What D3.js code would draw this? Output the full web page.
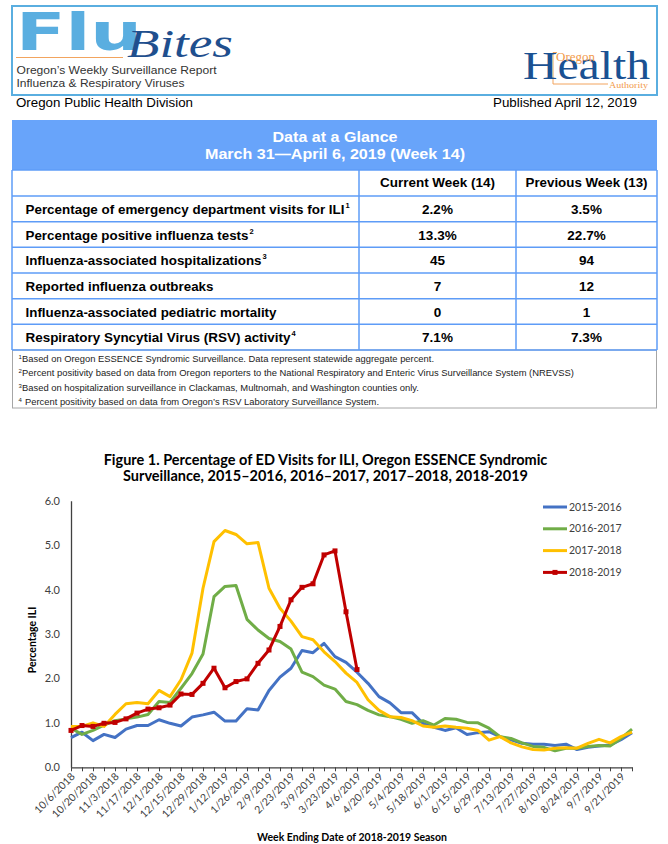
<!DOCTYPE html>
<html>
<head>
<meta charset="utf-8">
<script src="https://cdnjs.cloudflare.com/ajax/libs/d3/7.8.5/d3.min.js"></script>
<style>
  html, body { margin: 0; padding: 0; background: #fff; }
  svg { display: block; }
</style>
</head>
<body>
<svg id="page" width="668" height="844"></svg>
<script>
// ---------- data ----------
const weeks = ["10/6/2018","10/13/2018","10/20/2018","10/27/2018","11/3/2018","11/10/2018","11/17/2018","11/24/2018",
  "12/1/2018","12/8/2018","12/15/2018","12/22/2018","12/29/2018","1/5/2019","1/12/2019","1/19/2019","1/26/2019",
  "2/2/2019","2/9/2019","2/16/2019","2/23/2019","3/2/2019","3/9/2019","3/16/2019","3/23/2019","3/30/2019","4/6/2019",
  "4/13/2019","4/20/2019","4/27/2019","5/4/2019","5/11/2019","5/18/2019","5/25/2019","6/1/2019","6/8/2019","6/15/2019",
  "6/22/2019","6/29/2019","7/6/2019","7/13/2019","7/20/2019","7/27/2019","8/3/2019","8/10/2019","8/17/2019","8/24/2019",
  "8/31/2019","9/7/2019","9/14/2019","9/21/2019","9/28/2019"];

const s1516 = [0.67,0.79,0.60,0.74,0.67,0.86,0.94,0.94,1.07,0.99, 0.93,1.13,1.18,1.24,1.04,1.04,1.32,1.29,1.73,2.03,
  2.23,2.63,2.58,2.79,2.49,2.36,2.14,1.89,1.59,1.45, 1.23,1.23,0.99,0.90,0.83,0.89,0.74,0.78,0.80,0.69,
  0.62,0.54,0.52,0.52,0.49,0.52,0.40,0.45,0.48,0.50, 0.62,0.78];
const s1617 = [0.88,0.74,0.83,0.95,1.05,1.09,1.13,1.19,1.48,1.46, 1.78,2.11,2.55,3.84,4.07,4.09,3.33,3.09,2.90,2.83,
  2.66,2.14,2.04,1.85,1.76,1.48,1.41,1.28,1.18,1.14, 1.08,0.99,1.05,0.95,1.10,1.08,1.01,1.00,0.88,0.69,
  0.65,0.55,0.47,0.45,0.37,0.43,0.43,0.47,0.49,0.48, 0.65,0.86];
const s1718 = [0.92,0.92,1.00,0.92,1.19,1.43,1.46,1.43,1.73,1.59, 1.97,2.57,4.03,5.08,5.33,5.24,5.03,5.06,4.03,3.58,
  3.29,2.94,2.87,2.60,2.38,2.12,1.91,1.52,1.28,1.14, 1.12,1.05,0.93,0.90,0.93,0.90,0.88,0.83,0.61,0.69,
  0.55,0.46,0.40,0.39,0.43,0.44,0.43,0.54,0.63,0.55, 0.69,0.79];
const s1819 = [0.83,0.94,0.92,0.99,1.01,1.09,1.22,1.31,1.34,1.40, 1.65,1.64,1.89,2.23,1.79,1.93,1.99,2.34,2.64,3.17,
  3.77,4.05,4.13,4.78,4.87,3.50,2.20];

const seriesNames = ["2015-2016", "2016-2017", "2017-2018", "2018-2019"];
const seriesValues = [s1516, s1617, s1718, s1819];
const seriesColors = ["#4472c4", "#70ad47", "#ffc000", "#c00000"];
const yTicks = [0, 1, 2, 3, 4, 5, 6];

const rowLabels = [
  "Percentage of emergency department visits for ILI",
  "Percentage positive influenza tests",
  "Influenza-associated hospitalizations",
  "Reported influenza outbreaks",
  "Influenza-associated pediatric mortality",
  "Respiratory Syncytial Virus (RSV) activity"
];
const rowNotes = ["1", "2", "3", "", "", "4"];
const currentWeek = ["2.2%", "13.3%", "45", "7", "0", "7.1%"];
const previousWeek = ["3.5%", "22.7%", "94", "12", "1", "7.3%"];
const columnHeads = ["Current Week (14)", "Previous Week (13)"];
const footnotes = [
  ["1", "Based on Oregon ESSENCE Syndromic Surveillance. Data represent statewide aggregate percent."],
  ["2", "Percent positivity based on data from Oregon reporters to the National Respiratory and Enteric Virus Surveillance System (NREVSS)"],
  ["3", "Based on hospitalization surveillance in Clackamas, Multnomah, and Washington counties only."],
  ["4", "Percent positivity based on data from Oregon\u2019s RSV Laboratory Surveillance System."]
];

// ---------- layout ----------
const narrow = "'Liberation Sans Narrow', 'Arial Narrow', 'Liberation Sans', Arial, sans-serif";
const sans = "'Liberation Sans', Arial, sans-serif";
const serif = "'Liberation Serif', 'Times New Roman', serif";
const chartFont = "Lato, 'Open Sans', sans-serif";
const rowLabelWidth = [319, 223, 236, 188, 251, 265];
const footWidth = [412, 552, 397, 354];
const blue = "#5e9cf7";

const svg = d3.select("#page");

// ---------- masthead ----------
const head = svg.append("g");
head.append("rect")
  .attr("x", 12).attr("y", 6).attr("width", 645).attr("height", 89)
  .attr("fill", "none").attr("stroke", "#5aaee0").attr("stroke-width", 2);

head.append("text")
  .attr("x", 16).attr("y", 50)
  .attr("font-family", "'DejaVu Sans', sans-serif").attr("font-weight", "bold")
  .attr("font-size", 51).attr("fill", "#5aaee0")
  .attr("textLength", 126).attr("lengthAdjust", "spacingAndGlyphs")
  .text("Flu");
head.append("line")
  .attr("x1", 16).attr("x2", 123).attr("y1", 57.5).attr("y2", 57.5)
  .attr("stroke", "#f2a45e").attr("stroke-width", 1.2);
head.append("text")
  .attr("x", 127).attr("y", 57)
  .attr("font-family", serif).attr("font-style", "italic")
  .attr("font-size", 40).attr("fill", "#1f4f8e")
  .attr("textLength", 106).attr("lengthAdjust", "spacingAndGlyphs")
  .text("Bites");
head.append("text")
  .attr("x", 16.5).attr("y", 74).attr("font-family", sans).attr("font-size", 11).attr("fill", "#333")
  .attr("textLength", 200).attr("lengthAdjust", "spacingAndGlyphs")
  .text("Oregon\u2019s Weekly Surveillance Report");
head.append("text")
  .attr("x", 16.5).attr("y", 87).attr("font-family", sans).attr("font-size", 11).attr("fill", "#333")
  .attr("textLength", 168).attr("lengthAdjust", "spacingAndGlyphs")
  .text("Influenza & Respiratory Viruses");

// OHA logo
head.append("path")
  .attr("d", "M557,52.5 H553 V84 H608")
  .attr("fill", "none").attr("stroke", "#f2a45e").attr("stroke-width", 1);
head.append("text")
  .attr("x", 523).attr("y", 78.5)
  .attr("font-family", serif)
  .attr("font-size", 40).attr("fill", "#1a5192")
  .attr("textLength", 127).attr("lengthAdjust", "spacingAndGlyphs")
  .text("Health");
head.append("text")
  .attr("x", 556).attr("y", 61)
  .attr("font-family", serif).attr("font-size", 11.5).attr("fill", "#f29a4a")
  .attr("textLength", 39).attr("lengthAdjust", "spacingAndGlyphs")
  .text("Oregon");
head.append("text")
  .attr("x", 609).attr("y", 87.5)
  .attr("font-family", serif).attr("font-size", 9).attr("fill", "#f29a4a")
  .attr("textLength", 39).attr("lengthAdjust", "spacingAndGlyphs")
  .text("Authority");

svg.append("text")
  .attr("x", 16).attr("y", 106.5).attr("font-family", sans).attr("font-size", 13).attr("fill", "#000")
  .attr("textLength", 177).attr("lengthAdjust", "spacingAndGlyphs")
  .text("Oregon Public Health Division");
svg.append("text")
  .attr("x", 637).attr("y", 106.5).attr("text-anchor", "end")
  .attr("font-family", sans).attr("font-size", 13).attr("fill", "#000")
  .attr("textLength", 144).attr("lengthAdjust", "spacingAndGlyphs")
  .text("Published April 12, 2019");

// ---------- Data at a Glance table ----------
const tbl = svg.append("g");
const tLeft = 12, tRight = 657, col1 = 359, col2 = 516;
const rowY = d3.scaleBand().domain(d3.range(rowLabels.length)).range([196, 350]);

tbl.append("rect").attr("x", tLeft).attr("y", 120).attr("width", tRight - tLeft).attr("height", 50)
  .attr("fill", "#68a4fa");
tbl.append("text").attr("x", 335).attr("y", 142).attr("text-anchor", "middle")
  .attr("font-family", narrow).attr("font-weight", "bold").attr("font-size", 15).attr("fill", "#fff")
  .attr("textLength", 125).attr("lengthAdjust", "spacingAndGlyphs")
  .text("Data at a Glance");
tbl.append("text").attr("x", 335).attr("y", 158.5).attr("text-anchor", "middle")
  .attr("font-family", narrow).attr("font-weight", "bold").attr("font-size", 15).attr("fill", "#fff")
  .attr("textLength", 260).attr("lengthAdjust", "spacingAndGlyphs")
  .text("March 31\u2014April 6, 2019 (Week 14)");

// footnote box
tbl.append("rect").attr("x", tLeft + 0.5).attr("y", 350).attr("width", tRight - tLeft - 1).attr("height", 58)
  .attr("fill", "none").attr("stroke", "#a6a6a6").attr("stroke-width", 1);

// grid
const gridY = [170, 196].concat(rowLabels.map((d, i) => rowY(i) + rowY.bandwidth()));
tbl.selectAll(".hline").data(gridY).enter().append("line")
  .attr("x1", tLeft).attr("x2", tRight).attr("y1", d => d).attr("y2", d => d)
  .attr("stroke", blue).attr("stroke-width", 1.5);
tbl.selectAll(".vline").data([tLeft, col1, col2, tRight]).enter().append("line")
  .attr("x1", d => d).attr("x2", d => d).attr("y1", 170).attr("y2", 350)
  .attr("stroke", blue).attr("stroke-width", 1.5);

// column heads
tbl.selectAll(".colhead").data(columnHeads).enter().append("text")
  .attr("x", (d, i) => i === 0 ? (col1 + col2) / 2 : (col2 + tRight) / 2)
  .attr("y", 187).attr("text-anchor", "middle")
  .attr("font-family", narrow).attr("font-weight", "bold").attr("font-size", 13).attr("fill", "#000")
  .attr("textLength", (d, i) => i === 0 ? 115 : 122).attr("lengthAdjust", "spacingAndGlyphs")
  .text(d => d);

// rows
const rows = tbl.selectAll(".row").data(rowLabels).enter().append("g")
  .attr("transform", (d, i) => `translate(0,${rowY(i) + rowY.bandwidth() / 2 + 5})`);
rows.append("text")
  .attr("x", 25.5).attr("font-family", narrow).attr("font-weight", "bold").attr("font-size", 13.5)
  .attr("fill", "#000")
  .attr("textLength", (d, i) => rowLabelWidth[i]).attr("lengthAdjust", "spacingAndGlyphs")
  .text(d => d);
rows.append("text")
  .attr("x", (d, i) => 25.5 + rowLabelWidth[i] + 1).attr("y", -6)
  .attr("font-family", narrow).attr("font-weight", "bold").attr("font-size", 7.5).attr("fill", "#000")
  .text((d, i) => rowNotes[i]);
rows.append("text")
  .attr("x", (col1 + col2) / 2).attr("text-anchor", "middle")
  .attr("font-family", narrow).attr("font-weight", "bold").attr("font-size", 13.5).attr("fill", "#000")
  .text((d, i) => currentWeek[i]);
rows.append("text")
  .attr("x", (col2 + tRight) / 2).attr("text-anchor", "middle")
  .attr("font-family", narrow).attr("font-weight", "bold").attr("font-size", 13.5).attr("fill", "#000")
  .text((d, i) => previousWeek[i]);

// footnotes
const notes = tbl.selectAll(".note").data(footnotes).enter().append("g")
  .attr("transform", (d, i) => `translate(0,${362 + i * 14.3})`);
notes.append("text").attr("x", 18.5).attr("y", -3)
  .attr("font-family", narrow).attr("font-size", 6).attr("fill", "#222")
  .text(d => d[0]);
notes.append("text").attr("x", (d, i) => i === 3 ? 25 : 22)
  .attr("font-family", narrow).attr("font-size", 9.5).attr("fill", "#222")
  .attr("textLength", (d, i) => footWidth[i]).attr("lengthAdjust", "spacingAndGlyphs")
  .text(d => d[1]);

// ---------- Figure 1 ----------
const fig = svg.append("g");
fig.append("text").attr("x", 325.5).attr("y", 465).attr("text-anchor", "middle")
  .attr("font-family", chartFont).attr("font-weight", "bold").attr("font-size", 14.5).attr("fill", "#000")
  .text("Figure 1. Percentage of ED Visits for ILI, Oregon ESSENCE Syndromic");
fig.append("text").attr("x", 325.5).attr("y", 481).attr("text-anchor", "middle")
  .attr("font-family", chartFont).attr("font-weight", "bold").attr("font-size", 14.5).attr("fill", "#000")
  .text("Surveillance, 2015\u20132016, 2016\u20132017, 2017\u20132018, 2018-2019");

const x = d3.scalePoint().domain(weeks).range([71, 632]);
const y = d3.scaleLinear().domain([0, 6]).range([767.3, 500.7]);

// y axis
const yAxis = fig.append("g").attr("transform", "translate(71,0)")
  .call(d3.axisLeft(y).tickValues(yTicks).tickSize(0).tickPadding(11).tickFormat(d3.format(".1f")));
yAxis.select(".domain").attr("stroke", "#404040").attr("stroke-width", 1.3);
yAxis.selectAll("text").attr("font-family", chartFont).attr("font-size", 11).attr("fill", "#404040");

// x axis
const xAxis = fig.append("g").attr("transform", "translate(0,767.3)")
  .call(d3.axisBottom(x).tickSize(4).tickSizeOuter(0).tickFormat((d, i) => i % 2 === 0 ? d : ""));
xAxis.select(".domain").attr("stroke", "#404040").attr("stroke-width", 1.3);
xAxis.selectAll(".tick line").attr("stroke", "#404040").attr("stroke-width", 1);
xAxis.selectAll("text")
  .attr("font-family", chartFont).attr("font-size", 10.5).attr("fill", "#404040")
  .attr("x", 0).attr("y", 0).attr("dy", null)
  .attr("text-anchor", "end")
  .attr("transform", "translate(4,10) rotate(-45)");

// axis titles
fig.append("text").attr("transform", "translate(36,640) rotate(-90)").attr("text-anchor", "middle")
  .attr("font-family", chartFont).attr("font-weight", "bold").attr("font-size", 10.5).attr("fill", "#000")
  .text("Percentage ILI");
fig.append("text").attr("x", 352).attr("y", 841).attr("text-anchor", "middle")
  .attr("font-family", chartFont).attr("font-weight", "bold").attr("font-size", 10.5).attr("fill", "#000")
  .text("Week Ending Date of 2018-2019 Season");

// lines
const line = d3.line().x((d, i) => x(weeks[i])).y(d => y(d));
fig.selectAll(".series").data(seriesValues).enter().append("path")
  .attr("d", line)
  .attr("fill", "none")
  .attr("stroke", (d, i) => seriesColors[i])
  .attr("stroke-width", 3)
  .attr("stroke-linejoin", "round");

// 2018-2019 markers
fig.selectAll(".marker").data(s1819).enter().append("rect")
  .attr("x", (d, i) => x(weeks[i]) - 2.5).attr("y", d => y(d) - 2.5)
  .attr("width", 5).attr("height", 5)
  .attr("fill", seriesColors[3]);

// legend
const legend = fig.selectAll(".legend").data(seriesNames).enter().append("g")
  .attr("transform", (d, i) => `translate(543,${507 + i * 21.8})`);
legend.append("line").attr("x1", 0).attr("x2", 24)
  .attr("stroke", (d, i) => seriesColors[i]).attr("stroke-width", 3);
legend.filter((d, i) => i === 3).append("rect")
  .attr("x", 9.5).attr("y", -2.5).attr("width", 5).attr("height", 5).attr("fill", seriesColors[3]);
legend.append("text").attr("x", 26).attr("dy", "0.35em")
  .attr("font-family", chartFont).attr("font-size", 10.5).attr("fill", "#404040")
  .text(d => d);
</script>
</body>
</html>
